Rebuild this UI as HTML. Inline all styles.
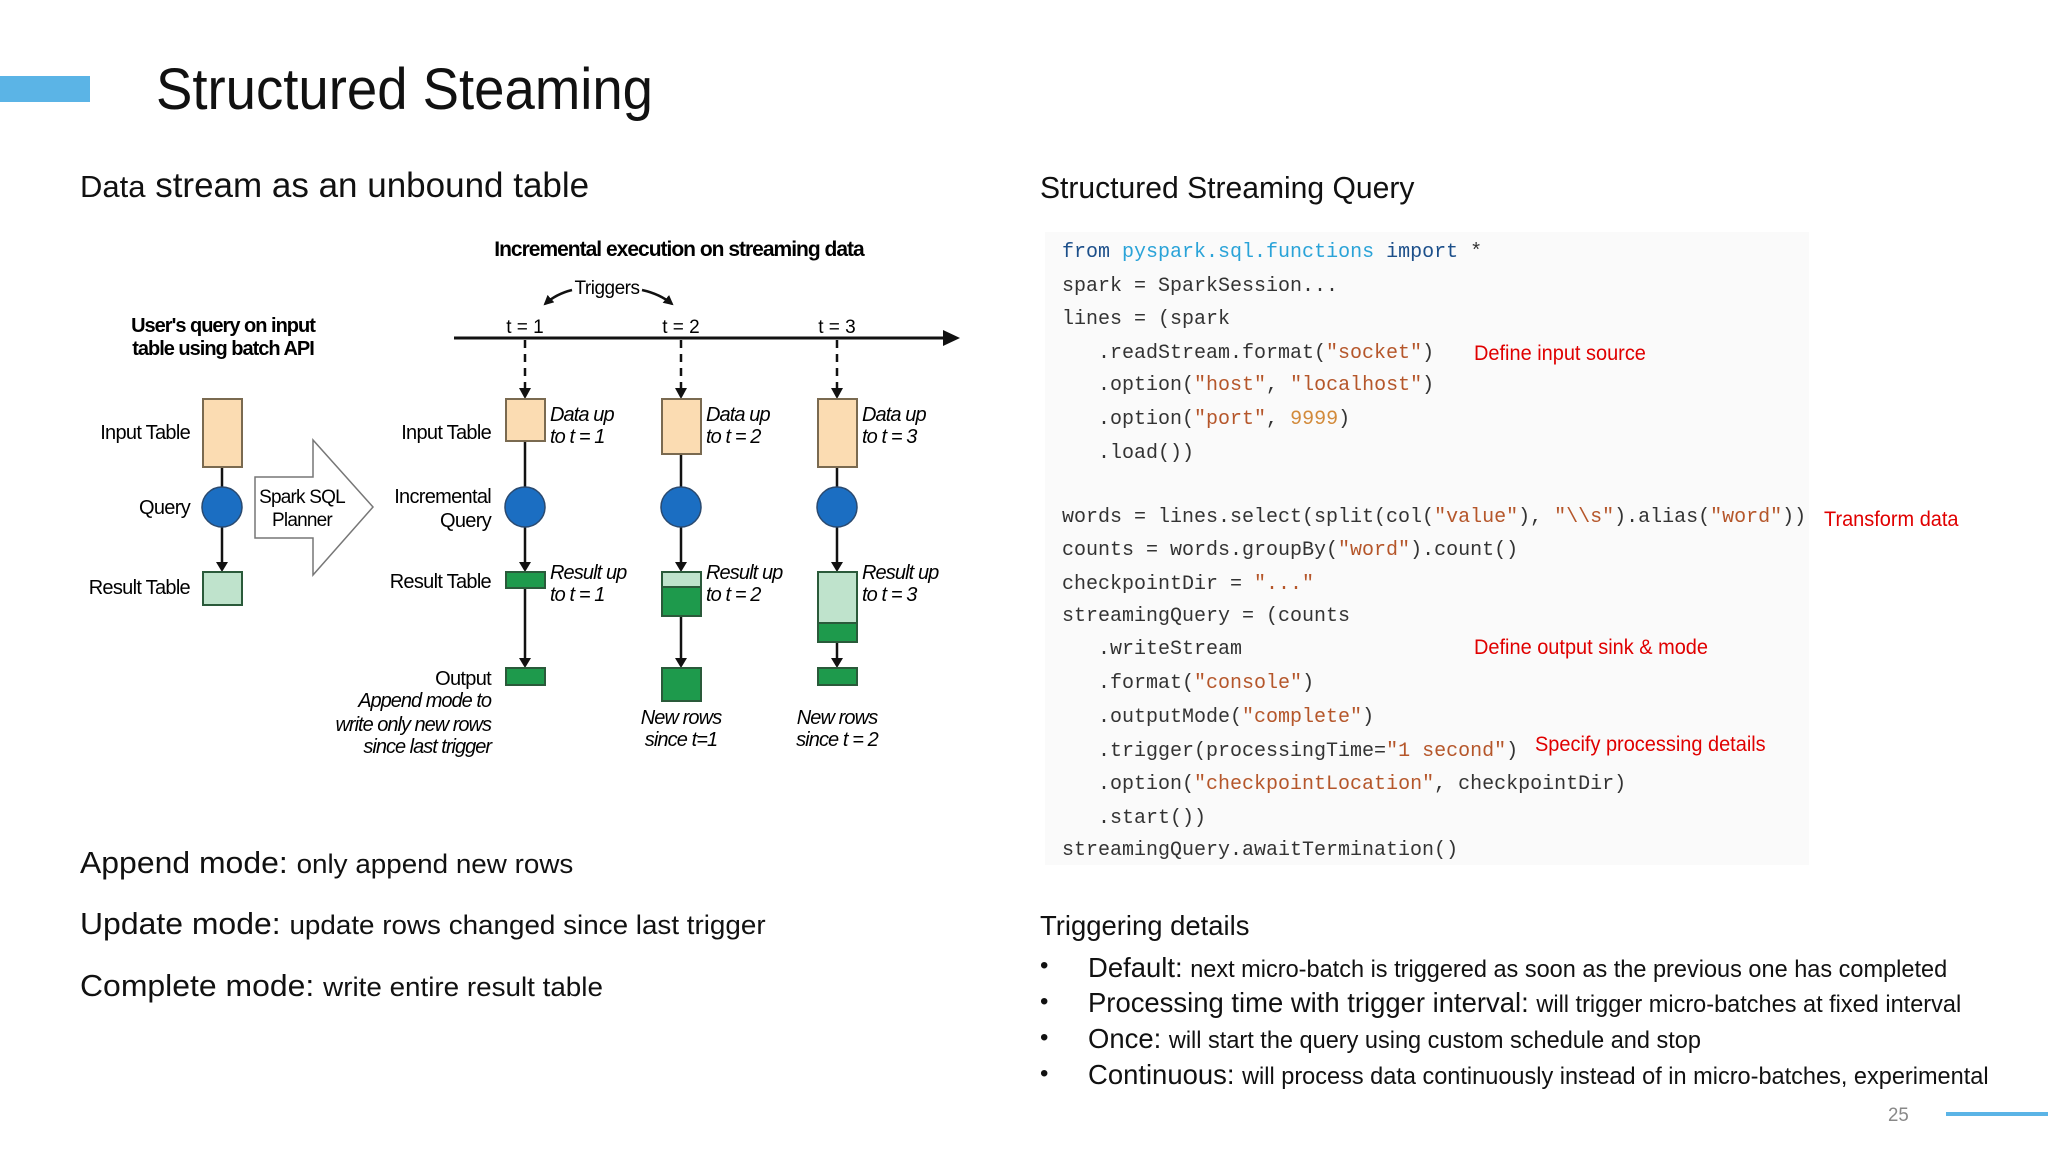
<!DOCTYPE html>
<html><head><meta charset="utf-8"><style>
html,body{margin:0;padding:0;background:#fff;}
body{width:2048px;height:1152px;position:relative;overflow:hidden;font-family:"Liberation Sans",sans-serif;color:#111;}
.a{position:absolute;white-space:nowrap;transform:scaleX(.98);transform-origin:0 50%;}
.code{position:absolute;font-family:"Liberation Mono",monospace;font-size:20px;color:#333;white-space:pre;}
.k{color:#1c4f8a}.m{color:#2aa3d8}.s{color:#b5562a}.n{color:#d28a3a}
.red{position:absolute;color:#e00000;font-size:21px;white-space:nowrap;transform:scaleX(.95);transform-origin:0 50%;}
.b{position:absolute;font-size:24px;left:1040px;}
</style></head><body>
<div style="position:absolute;left:0;top:76px;width:90px;height:26px;background:#5bb4e6"></div>
<div class="a" style="left:156px;top:58px;font-size:58px;line-height:64px;transform:scaleX(.94)">Structured Steaming</div>
<div class="a" style="left:80px;top:166px;font-size:35px;line-height:40px;transform:scaleX(1.0)"><span style="font-size:31px">Data</span> stream as an unbound table</div>
<div class="a" style="left:1040px;top:168px;font-size:31px;line-height:40px;transform:scaleX(.97)">Structured Streaming Query</div>

<svg style="position:absolute;left:0;top:0" width="1000" height="800" font-family="Liberation Sans, sans-serif">
<defs><marker id="ar" markerWidth="10" markerHeight="10" refX="8" refY="5" orient="auto" markerUnits="userSpaceOnUse"><path d="M0,0 L10,5 L0,10 z" fill="#111"/></marker></defs>
<text x="679" y="256" font-size="21" font-weight="bold" text-anchor="middle" letter-spacing="-1">Incremental execution on streaming data</text>
<text x="607" y="294" font-size="19" text-anchor="middle" letter-spacing="-0.5">Triggers</text>
<path d="M572,290 Q556,294 545,304" stroke="#111" stroke-width="2.5" fill="none" marker-end="url(#ar)"/>
<path d="M642,290 Q660,294 672,304" stroke="#111" stroke-width="2.5" fill="none" marker-end="url(#ar)"/>
<line x1="454" y1="338" x2="950" y2="338" stroke="#111" stroke-width="3"/>
<path d="M943,330 L960,338 L943,346 z" fill="#111"/>
<g font-size="19" text-anchor="middle"><text x="525" y="333">t = 1</text><text x="681" y="333">t = 2</text><text x="837" y="333">t = 3</text></g>
<g stroke="#111" stroke-width="2.5" stroke-dasharray="8,6"><line x1="525" y1="340" x2="525" y2="390"/><line x1="681" y1="340" x2="681" y2="390"/><line x1="837" y1="340" x2="837" y2="390"/></g>
<g fill="#111"><path d="M519,388 L531,388 L525,399 z"/><path d="M675,388 L687,388 L681,399 z"/><path d="M831,388 L843,388 L837,399 z"/></g>
<text x="223" y="332" font-size="20" font-weight="bold" text-anchor="middle" letter-spacing="-1">User's query on input</text>
<text x="223" y="355" font-size="20" font-weight="bold" text-anchor="middle" letter-spacing="-1">table using batch API</text>
<g stroke="#111" stroke-width="2.5"><line x1="222" y1="467" x2="222" y2="564"/><line x1="525" y1="441" x2="525" y2="564"/><line x1="681" y1="454" x2="681" y2="564"/><line x1="837" y1="467" x2="837" y2="564"/>
<line x1="525" y1="588" x2="525" y2="660"/><line x1="681" y1="616" x2="681" y2="660"/><line x1="837" y1="642" x2="837" y2="660"/></g>
<g fill="#111"><path d="M216,562 L228,562 L222,572 z"/><path d="M519,562 L531,562 L525,572 z"/><path d="M675,562 L687,562 L681,572 z"/><path d="M831,562 L843,562 L837,572 z"/>
<path d="M519,658 L531,658 L525,668 z"/><path d="M675,658 L687,658 L681,668 z"/><path d="M831,658 L843,658 L837,668 z"/></g>
<g fill="#fbdcb2" stroke="#7a6a50" stroke-width="2"><rect x="203" y="399" width="39" height="68"/><rect x="506" y="399" width="39" height="42"/><rect x="662" y="399" width="39" height="55"/><rect x="818" y="399" width="39" height="68"/></g>
<g fill="#1b6ec2" stroke="#2a4a70" stroke-width="1.5"><ellipse cx="222" cy="507" rx="20" ry="20"/><ellipse cx="525" cy="507" rx="20" ry="20"/><ellipse cx="681" cy="507" rx="20" ry="20"/><ellipse cx="837" cy="507" rx="20" ry="20"/></g>
<g stroke="#2a5a3a" stroke-width="2"><rect x="203" y="572" width="39" height="33" fill="#bfe3cc"/>
<rect x="506" y="572" width="39" height="16" fill="#1e9a4c"/>
<rect x="662" y="572" width="39" height="15" fill="#bfe3cc"/><rect x="662" y="587" width="39" height="29" fill="#1e9a4c"/>
<rect x="818" y="572" width="39" height="51" fill="#bfe3cc"/><rect x="818" y="623" width="39" height="19" fill="#1e9a4c"/>
<rect x="506" y="668" width="39" height="17" fill="#1e9a4c"/><rect x="662" y="668" width="39" height="33" fill="#1e9a4c"/><rect x="818" y="668" width="39" height="17" fill="#1e9a4c"/></g>
<path d="M255,477 L313,477 L313,440 L373,507 L313,575 L313,538 L255,538 z" fill="#fff" stroke="#777" stroke-width="1.5"/>
<text x="302" y="503" font-size="19" text-anchor="middle" letter-spacing="-0.8">Spark SQL</text><text x="302" y="526" font-size="19" text-anchor="middle" letter-spacing="-0.8">Planner</text>
<g font-size="20" text-anchor="end" letter-spacing="-0.7">
<text x="190" y="439">Input Table</text><text x="190" y="514">Query</text><text x="190" y="594">Result Table</text>
<text x="491" y="439">Input Table</text><text x="491" y="503">Incremental</text><text x="491" y="527">Query</text><text x="491" y="588">Result Table</text><text x="491" y="685">Output</text>
<g font-style="italic" letter-spacing="-1"><text x="491" y="707">Append mode to</text><text x="491" y="731">write only new rows</text><text x="491" y="753">since last trigger</text></g>
</g>
<g font-size="20" font-style="italic" letter-spacing="-0.9">
<text x="550" y="421">Data up</text><text x="550" y="443">to t = 1</text>
<text x="706" y="421">Data up</text><text x="706" y="443">to t = 2</text>
<text x="862" y="421">Data up</text><text x="862" y="443">to t = 3</text>
<text x="550" y="579">Result up</text><text x="550" y="601">to t = 1</text>
<text x="706" y="579">Result up</text><text x="706" y="601">to t = 2</text>
<text x="862" y="579">Result up</text><text x="862" y="601">to t = 3</text>
<g text-anchor="middle"><text x="681" y="724">New rows</text><text x="681" y="746">since t=1</text><text x="837" y="724">New rows</text><text x="837" y="746">since t = 2</text></g>
</g>
</svg>

<div class="a" style="left:80px;top:845px;font-size:31px;line-height:36px;transform:scaleX(1.03)">Append mode: <span style="font-size:27px">only append new rows</span></div>
<div class="a" style="left:80px;top:906px;font-size:31px;line-height:36px;transform:scaleX(1.03)">Update mode: <span style="font-size:27px">update rows changed since last trigger</span></div>
<div class="a" style="left:80px;top:968px;font-size:31px;line-height:36px;transform:scaleX(1.03)">Complete mode: <span style="font-size:27px">write entire result table</span></div>

<div style="position:absolute;left:1045px;top:232px;width:764px;height:633px;background:#fafafa"></div>
<div class="code" style="left:1062px;top:241px"><span class="k">from</span> <span class="m">pyspark.sql.functions</span> <span class="k">import</span> *</div>
<div class="code" style="left:1062px;top:275px">spark = SparkSession...</div>
<div class="code" style="left:1062px;top:308px">lines = (spark</div>
<div class="code" style="left:1062px;top:342px">   .readStream.format(<span class="s">"socket"</span>)</div>
<div class="code" style="left:1062px;top:374px">   .option(<span class="s">"host"</span>, <span class="s">"localhost"</span>)</div>
<div class="code" style="left:1062px;top:408px">   .option(<span class="s">"port"</span>, <span class="n">9999</span>)</div>
<div class="code" style="left:1062px;top:442px">   .load())</div>
<div class="code" style="left:1062px;top:506px">words = lines.select(split(col(<span class="s">"value"</span>), <span class="s">"\\s"</span>).alias(<span class="s">"word"</span>))</div>
<div class="code" style="left:1062px;top:539px">counts = words.groupBy(<span class="s">"word"</span>).count()</div>
<div class="code" style="left:1062px;top:573px">checkpointDir = <span class="s">"..."</span></div>
<div class="code" style="left:1062px;top:605px">streamingQuery = (counts</div>
<div class="code" style="left:1062px;top:638px">   .writeStream</div>
<div class="code" style="left:1062px;top:672px">   .format(<span class="s">"console"</span>)</div>
<div class="code" style="left:1062px;top:706px">   .outputMode(<span class="s">"complete"</span>)</div>
<div class="code" style="left:1062px;top:740px">   .trigger(processingTime=<span class="s">"1 second"</span>)</div>
<div class="code" style="left:1062px;top:773px">   .option(<span class="s">"checkpointLocation"</span>, checkpointDir)</div>
<div class="code" style="left:1062px;top:807px">   .start())</div>
<div class="code" style="left:1062px;top:839px">streamingQuery.awaitTermination()</div>
<div class="red" style="left:1474px;top:342px">Define input source</div>
<div class="red" style="left:1824px;top:508px">Transform data</div>
<div class="red" style="left:1474px;top:636px">Define output sink &amp; mode</div>
<div class="red" style="left:1535px;top:733px">Specify processing details</div>

<div class="a" style="left:1040px;top:908px;font-size:28px;line-height:36px;">Triggering details</div>
<div class="b" style="top:952px">•</div><div class="a" style="left:1088px;top:950px;font-size:28px;line-height:36px;">Default: <span style="font-size:24px">next micro-batch is triggered as soon as the previous one has completed</span></div>
<div class="b" style="top:988px">•</div><div class="a" style="left:1088px;top:985px;font-size:28px;line-height:36px;">Processing time with trigger interval: <span style="font-size:24px">will trigger micro-batches at fixed interval</span></div>
<div class="b" style="top:1024px">•</div><div class="a" style="left:1088px;top:1021px;font-size:28px;line-height:36px;">Once: <span style="font-size:24px">will start the query using custom schedule and stop</span></div>
<div class="b" style="top:1060px">•</div><div class="a" style="left:1088px;top:1057px;font-size:28px;line-height:36px;">Continuous: <span style="font-size:24px">will process data continuously instead of in micro-batches, experimental</span></div>
<div class="a" style="left:1888px;top:1104px;font-size:19px;color:#888;line-height:24px;">25</div>
<div style="position:absolute;left:1946px;top:1112px;width:102px;height:4px;background:#5bb4e6"></div>
</body></html>
